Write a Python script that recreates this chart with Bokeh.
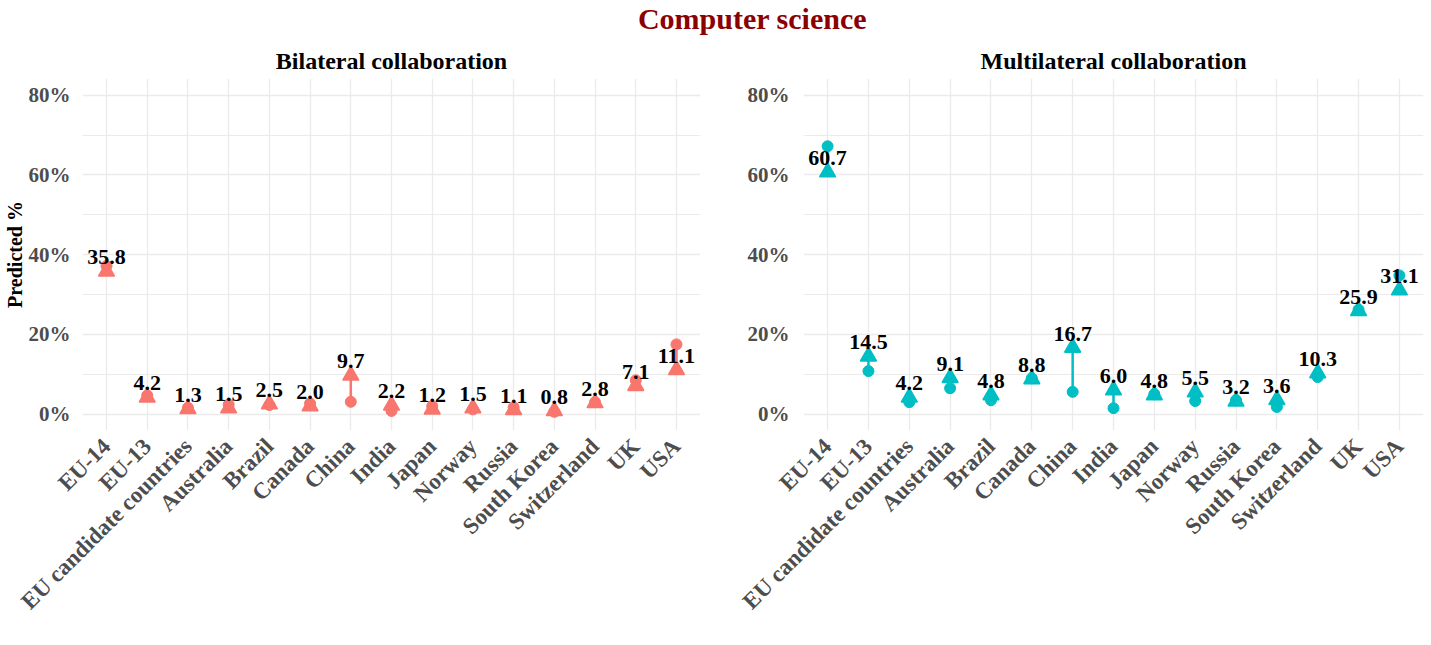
import math
from bokeh.plotting import figure
from bokeh.layouts import column, row
from bokeh.models import (FactorRange, Range1d, FixedTicker, PrintfTickFormatter,
                          ColumnDataSource, Label)
from bokeh.core.properties import value
from bokeh.embed import file_html
from bokeh.resources import INLINE

countries = ["EU-14", "EU-13", "EU candidate countries", "Australia", "Brazil",
             "Canada", "China", "India", "Japan", "Norway", "Russia",
             "South Korea", "Switzerland", "UK", "USA"]

bi_pred = [35.8, 4.2, 1.3, 1.5, 2.5, 2.0, 9.7, 2.2, 1.2, 1.5, 1.1, 0.8, 2.8, 7.1, 11.1]
bi_obs = [37.2, 4.7, 1.6, 2.4, 2.3, 2.7, 3.1, 0.8, 2.0, 1.2, 1.7, 0.6, 3.0, 8.5, 17.5]

multi_pred = [60.7, 14.5, 4.2, 9.1, 4.8, 8.8, 16.7, 6.0, 4.8, 5.5, 3.2, 3.6, 10.3, 25.9, 31.1]
multi_obs = [67.2, 10.8, 3.0, 6.5, 3.5, 9.0, 5.6, 1.5, 5.0, 3.3, 3.5, 1.8, 9.3, 26.2, 34.8]

y_ticks = [0, 20, 40, 60, 80]
y_minor = [10, 30, 50, 70]

FONT = "Liberation Serif"
TOP_H = 40
PANEL_H = 645 - TOP_H


def panel(title, pred, obs, color, width, left, right, ylabel=None):
    src = ColumnDataSource(dict(x=countries, pred=pred, obs=obs,
                                lab=[f"{v:.1f}" for v in pred]))
    p = figure(width=width, height=PANEL_H,
               x_range=FactorRange(*countries, range_padding=0.09,
                                   range_padding_units="absolute"),
               y_range=Range1d(-4.1, 84.2),
               toolbar_location=None, output_backend="svg",
               min_border_left=left, min_border_right=right,
               min_border_top=37, min_border_bottom=215)
    p.outline_line_color = None
    p.background_fill_color = "white"
    p.border_fill_color = "white"

    p.title.text = title
    p.title.align = "center"
    p.title.text_font = FONT
    p.title.text_font_style = "bold"
    p.title.text_font_size = "24px"
    p.title.text_color = "black"

    # grids
    p.xgrid.grid_line_color = "#EBEBEB"
    p.xgrid.grid_line_width = 1.3
    p.ygrid.grid_line_color = "#EBEBEB"
    p.ygrid.grid_line_width = 1.3
    p.ygrid.minor_grid_line_color = "#EBEBEB"
    p.ygrid.minor_grid_line_width = 1.0

    p.yaxis.ticker = FixedTicker(ticks=y_ticks, minor_ticks=y_minor)
    p.yaxis.formatter = PrintfTickFormatter(format="%d%%")

    for ax in (p.xaxis, p.yaxis):
        ax.axis_line_color = None
        ax.major_tick_line_color = None
        ax.minor_tick_line_color = None
        ax.major_label_text_font = FONT
        ax.major_label_text_font_style = "bold"
        ax.major_label_text_color = "#4D4D4D"
    p.yaxis.major_label_text_font_size = "21px"
    p.xaxis.major_label_text_font_size = "23px"
    p.yaxis.major_label_standoff = 8 if ylabel is None else 6
    p.xaxis.major_label_standoff = 6
    p.xaxis.major_label_orientation = math.pi / 4

    if ylabel:
        p.yaxis.axis_label = ylabel
        p.yaxis.axis_label_text_font = FONT
        p.yaxis.axis_label_text_font_style = "bold"
        p.yaxis.axis_label_text_font_size = "20px"
        p.yaxis.axis_label_text_color = "black"
        p.yaxis.axis_label_standoff = 0

    p.segment(x0="x", y0="obs", x1="x", y1="pred", source=src,
              line_color=color, line_width=2.5)
    p.scatter(x="x", y="obs", source=src, marker="circle", size=11,
              fill_color=color, line_color=color)
    p.scatter(x="x", y="pred", source=src, marker="triangle", size=16,
              fill_color=color, line_color=color, line_width=1.5)
    p.text(x="x", y="pred", text="lab", source=src,
           text_font=value(FONT), text_font_style="bold",
           text_font_size="22px", text_color="black",
           text_align="center", text_baseline="alphabetic", y_offset=-14)
    return p


top = figure(width=1431, height=TOP_H, toolbar_location=None,
             output_backend="svg", x_range=Range1d(0, 1431),
             y_range=Range1d(0, TOP_H), min_border=0)
top.axis.visible = False
top.grid.visible = False
top.outline_line_color = None
top.add_layout(Label(x=752, y=TOP_H - 18, x_units="data", y_units="data",
                     text="Computer science", text_font=FONT,
                     text_font_style="bold", text_font_size="30px",
                     text_color="#8B0000", text_align="center",
                     text_baseline="middle"))

left = panel("Bilateral collaboration", bi_pred, bi_obs, "#F8766D",
             715, 82, 15, ylabel="Predicted %")
right = panel("Multilateral collaboration", multi_pred, multi_obs, "#00BFC4",
              716, 88, 8)

layout = column(top, row(left, right, spacing=0), spacing=0)
open("out.html", "w").write(file_html(layout, INLINE))
